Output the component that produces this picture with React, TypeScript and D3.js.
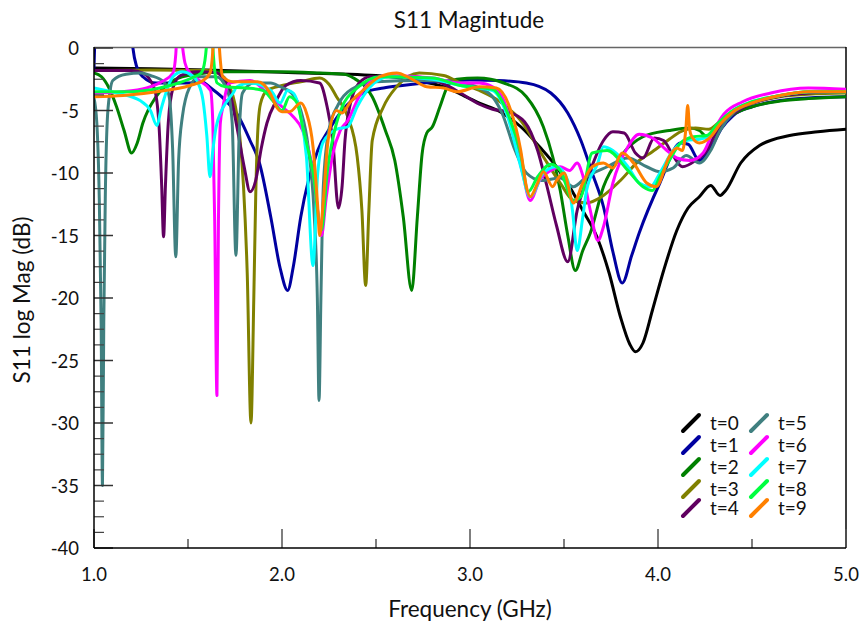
import React from 'react';
import * as d3 from 'd3';

type Pt = [number, number];

// Frequency (GHz), S11 (dB)
const t0: Pt[] = [[1.0,-1.6],[1.3,-1.65],[1.6,-1.75],[2.0,-1.95],[2.5,-2.2],[2.75,-2.7],[2.88,-3.2],[2.95,-3.7],[3.05,-4.4],[3.16,-5.1],[3.27,-6.3],[3.37,-7.9],[3.46,-9.5],[3.53,-11.1],[3.6,-13],[3.675,-15.1],[3.74,-18],[3.8,-21.5],[3.85,-23.7],[3.88,-24.3],[3.92,-23.6],[3.97,-21],[4.03,-17.8],[4.1,-14.6],[4.16,-12.8],[4.22,-11.9],[4.28,-11.0],[4.33,-11.8],[4.36,-11.4],[4.44,-9.2],[4.54,-7.8],[4.7,-7.0],[4.85,-6.7],[5.0,-6.5]];
const t1: Pt[] = [[1.0,-1.6],[1.004,0.5],[1.01,3],[1.19,3],[1.207,0],[1.225,-1.4],[1.26,-2.3],[1.33,-2.8],[1.5,-2.8],[1.57,-2.7],[1.63,-3.3],[1.7,-4.2],[1.77,-5.5],[1.83,-7.4],[1.88,-9.2],[1.94,-13.5],[1.99,-17.6],[2.03,-19.4],[2.06,-17.5],[2.1,-13.5],[2.19,-8.2],[2.26,-6.3],[2.32,-5.0],[2.43,-3.6],[2.54,-3.2],[2.64,-3.0],[2.82,-2.7],[3.0,-2.55],[3.15,-2.6],[3.3,-2.8],[3.43,-3.6],[3.52,-5.2],[3.59,-7.4],[3.65,-10],[3.71,-12.7],[3.76,-16.3],[3.81,-18.8],[3.86,-16.6],[3.9,-14.8],[4.01,-10.8],[4.12,-7.6],[4.16,-7.7],[4.22,-9.0],[4.28,-8.0],[4.34,-6.4],[4.4,-5.4],[4.5,-4.7],[4.65,-4.2],[4.8,-4.0],[5.0,-3.9]];
const t2: Pt[] = [[1.0,-2.0],[1.04,-2.3],[1.08,-3.2],[1.12,-4.7],[1.16,-6.6],[1.2,-8.4],[1.23,-7.6],[1.26,-6.0],[1.33,-3.9],[1.4,-2.8],[1.5,-2.2],[1.7,-1.9],[2.0,-1.9],[2.2,-2.0],[2.33,-2.1],[2.38,-2.4],[2.48,-3.9],[2.55,-6.6],[2.6,-9],[2.645,-13.5],[2.69,-19.4],[2.72,-13.5],[2.745,-8.5],[2.77,-6.8],[2.8,-6.3],[2.84,-4.7],[2.88,-3.1],[2.93,-2.5],[3.04,-2.4],[3.18,-2.8],[3.3,-3.9],[3.39,-6.3],[3.44,-8.7],[3.48,-11.4],[3.52,-15],[3.56,-17.8],[3.6,-16.2],[3.64,-14.8],[3.71,-11.1],[3.8,-8.7],[3.92,-7.1],[4.06,-6.6],[4.17,-6.4],[4.22,-6.6],[4.26,-7.1],[4.3,-6.6],[4.38,-5.5],[4.5,-4.7],[4.65,-4.25],[4.8,-4.05],[5.0,-3.9]];
const t3: Pt[] = [[1.0,-1.8],[1.3,-1.75],[1.6,-1.8],[1.68,-2.2],[1.72,-3.0],[1.75,-4.5],[1.775,-7],[1.795,-11],[1.815,-18],[1.835,-30],[1.85,-20],[1.86,-12],[1.87,-7],[1.885,-4.5],[1.92,-3.4],[2.0,-3.0],[2.1,-2.7],[2.2,-2.4],[2.25,-2.9],[2.29,-3.9],[2.35,-5.5],[2.4,-8.7],[2.425,-13],[2.445,-19],[2.462,-13],[2.48,-7.4],[2.54,-4.7],[2.61,-3.1],[2.73,-2.0],[2.86,-2.2],[2.95,-2.8],[3.05,-3.4],[3.16,-4.3],[3.27,-5.8],[3.39,-8.7],[3.48,-10.8],[3.55,-12.2],[3.62,-12.4],[3.7,-11.9],[3.8,-10.6],[3.9,-9.0],[3.97,-8.3],[4.06,-7.3],[4.12,-6.7],[4.2,-6.4],[4.27,-6.5],[4.32,-6.0],[4.4,-5.0],[4.5,-4.4],[4.65,-3.9],[4.8,-3.7],[5.0,-3.6]];
const t4: Pt[] = [[1.0,-1.8],[1.2,-1.8],[1.26,-2.0],[1.32,-3.2],[1.345,-6],[1.36,-11],[1.37,-15.1],[1.38,-11],[1.395,-6],[1.42,-3.2],[1.46,-2.2],[1.55,-1.9],[1.65,-1.95],[1.68,-2.3],[1.72,-3.4],[1.76,-6.3],[1.8,-9.6],[1.83,-11.5],[1.86,-10.6],[1.89,-8],[1.92,-6],[1.97,-4.2],[2.02,-3.0],[2.1,-2.6],[2.2,-2.8],[2.24,-4.7],[2.27,-7.4],[2.3,-12.8],[2.32,-11],[2.335,-7.4],[2.36,-4.7],[2.41,-2.8],[2.47,-2.3],[2.7,-2.3],[2.85,-2.8],[2.95,-3.6],[3.05,-4.5],[3.12,-4.9],[3.2,-5.1],[3.29,-5.9],[3.36,-8.2],[3.41,-11.1],[3.46,-14.2],[3.52,-17.1],[3.57,-13],[3.64,-9.8],[3.71,-7.4],[3.76,-6.7],[3.82,-6.8],[3.88,-8.4],[3.92,-8.8],[3.98,-7.2],[4.03,-7.4],[4.08,-8.6],[4.13,-9.5],[4.2,-9.0],[4.26,-8.2],[4.3,-7.0],[4.36,-5.8],[4.45,-4.8],[4.6,-4.0],[4.8,-3.6],[5.0,-3.5]];
const t5: Pt[] = [[1.0,-4.0],[1.015,-6],[1.028,-12],[1.038,-22],[1.045,-35],[1.052,-22],[1.06,-12],[1.07,-6],[1.085,-3.5],[1.1,-2.6],[1.17,-2.1],[1.25,-2.0],[1.3,-2.2],[1.37,-2.7],[1.4,-3.9],[1.418,-8],[1.435,-16.7],[1.45,-9],[1.47,-5.5],[1.51,-3.1],[1.56,-2.3],[1.65,-2.3],[1.71,-3.4],[1.735,-6],[1.755,-16.6],[1.772,-7],[1.79,-3.6],[1.85,-2.8],[1.94,-2.8],[1.99,-3.1],[2.05,-3.6],[2.1,-5],[2.14,-8],[2.17,-13],[2.188,-20],[2.197,-28.2],[2.207,-20],[2.22,-11],[2.25,-6.5],[2.3,-4.5],[2.37,-3.3],[2.5,-2.7],[2.75,-2.6],[2.95,-2.8],[3.05,-3.2],[3.12,-3.9],[3.17,-5.2],[3.24,-8.2],[3.3,-10],[3.38,-10.6],[3.48,-10.4],[3.55,-11.1],[3.62,-10.3],[3.73,-9.5],[3.84,-8.8],[3.94,-9.5],[4.01,-9.9],[4.08,-9.6],[4.15,-8.6],[4.22,-9.2],[4.28,-8.2],[4.33,-6.6],[4.4,-5.2],[4.5,-4.4],[4.65,-3.8],[4.8,-3.5],[5.0,-3.4]];
const t6: Pt[] = [[1.0,-3.6],[1.15,-3.5],[1.28,-3.2],[1.36,-2.7],[1.42,-2.0],[1.435,-0.5],[1.442,1.5],[1.455,3],[1.465,1],[1.475,-0.4],[1.484,-1.2],[1.51,-2.0],[1.56,-2.6],[1.62,-3.4],[1.632,-6],[1.642,-13.8],[1.654,-27.8],[1.662,-13.8],[1.672,-6],[1.686,-4.7],[1.72,-2.8],[1.83,-2.6],[1.94,-3.9],[2.0,-4.7],[2.06,-5.5],[2.11,-6.6],[2.16,-9.5],[2.19,-13],[2.21,-15],[2.235,-12],[2.27,-8.5],[2.31,-6.6],[2.35,-5.8],[2.41,-3.9],[2.48,-2.6],[2.56,-2.2],[2.8,-2.4],[2.95,-2.8],[3.05,-2.8],[3.12,-3.1],[3.18,-4.2],[3.23,-6.8],[3.28,-10],[3.32,-12.2],[3.37,-10.6],[3.43,-9.8],[3.48,-9.5],[3.53,-9.8],[3.57,-9.2],[3.6,-10.2],[3.64,-13],[3.68,-15.4],[3.71,-14.3],[3.76,-10.8],[3.84,-7.9],[3.9,-6.9],[3.97,-7.2],[4.04,-8.1],[4.1,-8.8],[4.17,-9.0],[4.24,-8.4],[4.29,-6.8],[4.35,-5.3],[4.45,-4.3],[4.6,-3.6],[4.8,-3.2],[5.0,-3.3]];
const t7: Pt[] = [[1.0,-3.2],[1.12,-3.6],[1.245,-4.2],[1.3,-5],[1.335,-6.2],[1.355,-5.0],[1.37,-4.2],[1.42,-2.3],[1.47,-1.9],[1.52,-2.2],[1.55,-2.7],[1.58,-4.2],[1.6,-7],[1.617,-10.3],[1.632,-8.2],[1.65,-6.3],[1.71,-4.2],[1.74,-3.6],[1.76,-3.1],[1.83,-2.8],[1.94,-3.4],[1.99,-4.4],[2.03,-3.4],[2.06,-3.6],[2.1,-5.5],[2.13,-8.7],[2.165,-17.4],[2.19,-10],[2.22,-7.5],[2.29,-6.5],[2.35,-6.3],[2.4,-4.7],[2.47,-3.1],[2.57,-2.3],[2.8,-2.5],[2.95,-3.0],[3.12,-3.4],[3.2,-5.5],[3.27,-9.5],[3.32,-11.9],[3.39,-10.0],[3.46,-9.5],[3.52,-10.6],[3.545,-13],[3.57,-16.2],[3.6,-13.5],[3.62,-11.4],[3.68,-9.2],[3.71,-7.9],[3.76,-8.2],[3.84,-9.5],[3.9,-10.8],[3.96,-11.1],[4.01,-10.0],[4.08,-8.2],[4.15,-7.4],[4.22,-7.3],[4.28,-7.0],[4.33,-6.0],[4.4,-5.0],[4.5,-4.3],[4.65,-3.8],[4.8,-3.5],[5.0,-3.5]];
const t8: Pt[] = [[1.0,-3.5],[1.2,-3.5],[1.35,-3.2],[1.45,-2.8],[1.52,-2.4],[1.57,-2.0],[1.59,-1.0],[1.6,0.5],[1.61,3],[1.62,3],[1.63,0.5],[1.64,-1.5],[1.655,-2.8],[1.7,-3.1],[1.81,-3.2],[1.9,-3.4],[1.95,-4.2],[2.0,-5.0],[2.04,-3.9],[2.08,-4.4],[2.11,-6.3],[2.165,-10],[2.21,-14.6],[2.24,-10],[2.29,-6],[2.32,-4.7],[2.4,-3.2],[2.52,-2.3],[2.8,-2.4],[2.95,-3.0],[3.12,-3.3],[3.2,-5.2],[3.27,-8.5],[3.31,-11.5],[3.36,-10.3],[3.43,-9.3],[3.48,-9.8],[3.55,-12.2],[3.59,-11.9],[3.65,-8.4],[3.73,-8.2],[3.84,-9.8],[3.92,-11.1],[3.97,-11.4],[4.01,-10.3],[4.06,-9.0],[4.12,-7.6],[4.19,-7.1],[4.26,-7.0],[4.32,-6.0],[4.4,-5.0],[4.5,-4.3],[4.65,-3.8],[4.8,-3.5],[5.0,-3.5]];
const t9: Pt[] = [[1.0,-3.9],[1.155,-3.8],[1.335,-3.5],[1.51,-3.0],[1.58,-2.6],[1.617,-2.0],[1.628,-1.0],[1.635,0.5],[1.645,3],[1.655,3],[1.665,0.5],[1.672,-1.0],[1.685,-2.3],[1.74,-2.7],[1.87,-2.7],[1.94,-3.7],[1.97,-4.7],[2.0,-5.1],[2.04,-5.1],[2.1,-4.4],[2.13,-5.2],[2.165,-7.9],[2.19,-12.7],[2.2,-15],[2.22,-12.2],[2.245,-7.4],[2.29,-5.0],[2.32,-5.2],[2.36,-4.4],[2.43,-3.4],[2.52,-2.3],[2.61,-2.0],[2.68,-2.4],[2.77,-3.1],[2.86,-3.2],[2.93,-3.5],[3.05,-3.1],[3.14,-3.2],[3.21,-4.7],[3.27,-8.2],[3.3,-11.1],[3.32,-11.9],[3.36,-10.8],[3.39,-9.9],[3.44,-11.1],[3.46,-10.6],[3.5,-10.0],[3.55,-12.4],[3.6,-10.8],[3.65,-9.5],[3.71,-9.2],[3.76,-9.6],[3.81,-8.4],[3.87,-9.2],[3.94,-10.8],[3.99,-11.1],[4.06,-8.7],[4.1,-8.0],[4.13,-8.2],[4.148,-6.5],[4.158,-4.6],[4.168,-6.5],[4.18,-7.1],[4.22,-7.6],[4.28,-7.1],[4.33,-6.1],[4.4,-5.1],[4.5,-4.4],[4.65,-3.8],[4.8,-3.5],[5.0,-3.5]];

const seriesNames = ['t=0','t=1','t=2','t=3','t=4','t=5','t=6','t=7','t=8','t=9'];
const seriesColors = ['#000000','#0000a0','#008000','#808000','#600060','#408080','#ff00ff','#00ffff','#00ff40','#ff8000'];
const seriesData = [t0,t1,t2,t3,t4,t5,t6,t7,t8,t9];

const xMajorTicks = [1, 2, 3, 4, 5];
const xTickLabels = ['1.0', '2.0', '3.0', '4.0', '5.0'];
const xMinorTicks = [1.5, 2.5, 3.5, 4.5];
const yMajorTicks = [0, -5, -10, -15, -20, -25, -30, -35, -40];
const yMinorTicks = d3.range(0, -40.01, -1.25).filter(v => Math.abs(v % 5) > 0.01);

const FONT = 'Lato, "Open Sans", sans-serif';

export default function App() {
  const left = 94, right = 846, top = 48, bottom = 548;
  const x = d3.scaleLinear().domain([1, 5]).range([left, right]);
  const y = d3.scaleLinear().domain([0, -40]).range([top, bottom]);
  const line = d3.line<Pt>().x(d => x(d[0])).y(d => y(d[1])).curve(d3.curveMonotoneX);

  const legendRowsY = [423, 445, 467, 489, 508];
  const legendCols = [{ sw: 683, tx: 710 }, { sw: 751, tx: 778 }];

  return (
    <svg width={865} height={629} style={{ position: 'absolute', left: 0, top: 0, background: '#fff' }} fontFamily={FONT}>
      <defs>
        <clipPath id="plot">
          <rect x={left} y={top} width={right - left} height={bottom - top} />
        </clipPath>
      </defs>
      <rect x={0} y={0} width={865} height={629} fill="#fff" />
      <text x={469} y={28} textAnchor="middle" fontSize={22.5} fill="#111">S11 Magintude</text>

      {/* frame */}
      <line x1={left} x2={right} y1={top - 0.5} y2={top - 0.5} stroke="#666" strokeWidth={1.5} />
      <line x1={right} x2={right} y1={top - 1} y2={bottom} stroke="#000" strokeWidth={1.5} />

      {/* curves */}
      <g clipPath="url(#plot)">
        {seriesData.map((d, i) => (
          <path key={i} d={line(d) || ''} fill="none" stroke={seriesColors[i]} strokeWidth={3} strokeLinejoin="round" strokeLinecap="round" />
        ))}
      </g>

      {/* y ticks */}
      {yMajorTicks.map(v => (
        <g key={'ym' + v}>
          <line x1={left} x2={left + 19} y1={y(v)} y2={y(v)} stroke="#333" strokeWidth={1.5} />
          <text x={79} y={y(v) + 7} textAnchor="end" fontSize={18.5} fill="#111">{v}</text>
        </g>
      ))}
      {yMinorTicks.map(v => (
        <line key={'yn' + v} x1={left} x2={left + 10} y1={y(v)} y2={y(v)} stroke="#444" strokeWidth={1.2} />
      ))}
      {/* x ticks */}
      {xMajorTicks.map((v, i) => (
        <g key={'xm' + v}>
          <line x1={x(v)} x2={x(v)} y1={bottom} y2={bottom - 19} stroke="#555" strokeWidth={1.5} />
          <text x={x(v)} y={581} textAnchor="middle" fontSize={18.5} fill="#111">{xTickLabels[i]}</text>
        </g>
      ))}
      {xMinorTicks.map(v => (
        <line key={'xn' + v} x1={x(v)} x2={x(v)} y1={bottom} y2={bottom - 9} stroke="#555" strokeWidth={1.5} />
      ))}

      {/* axes lines */}
      <line x1={left} x2={left} y1={top - 1} y2={bottom} stroke="#000" strokeWidth={1.5} />
      <line x1={left} x2={right} y1={bottom} y2={bottom} stroke="#000" strokeWidth={1.5} />

      {/* axis titles */}
      <text x={470} y={617} textAnchor="middle" fontSize={22.5} fill="#111">Frequency (GHz)</text>
      <text transform="translate(30,300) rotate(-90)" textAnchor="middle" fontSize={22.5} fill="#111">S11 log Mag (dB)</text>

      {/* legend */}
      {seriesNames.map((name, i) => {
        const col = legendCols[Math.floor(i / 5)];
        const cy = legendRowsY[i % 5];
        return (
          <g key={name}>
            <line x1={col.sw} y1={cy + 8} x2={col.sw + 16} y2={cy - 8} stroke={seriesColors[i]} strokeWidth={4} strokeLinecap="round" />
            <text x={col.tx} y={cy + 6.5} fontSize={19} fill="#111">{name}</text>
          </g>
        );
      })}
    </svg>
  );
}
